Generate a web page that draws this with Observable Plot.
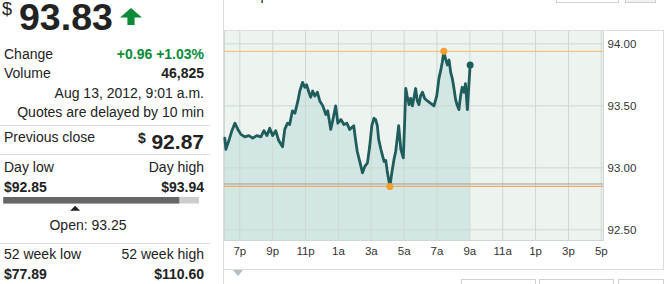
<!DOCTYPE html>
<html><head><meta charset="utf-8">
<script src="https://cdn.jsdelivr.net/npm/d3@7"></script>
<script src="https://cdn.jsdelivr.net/npm/@observablehq/plot@0.6"></script>
<style>
body{margin:0;background:#fff;font-family:"Liberation Sans",Arial,sans-serif;}
#wrap{position:relative;width:672px;height:284px;overflow:hidden;background:#fff;}
#left{position:absolute;left:0;top:0;}
#chart{position:absolute;left:223px;top:0;}
.ln{position:absolute;background:#dcdcdc;}
.bx{position:absolute;border:1px solid #d0d0d0;box-sizing:border-box;background:#fff;}
#cmp{position:absolute;left:231px;top:-13px;font-size:14px;color:#222;line-height:16px;white-space:nowrap;}
#tri{position:absolute;left:233px;top:270px;width:0;height:0;border-left:5px solid transparent;border-right:5px solid transparent;border-top:6px solid #b4bcc4;}
</style></head><body>
<div id="wrap">
  <svg id="left" width="223" height="284"></svg>
  <div class="ln" style="left:223px;top:0;width:1px;height:284px"></div>
  <div id="cmp">Compare: Indices</div>
  <div class="bx" style="left:556px;top:-20px;width:63px;height:23px"></div>
  <div class="bx" style="left:625px;top:-20px;width:31px;height:23px;background:#f2f2f2"></div>
  <div id="chart"></div>
  <div class="ln" style="left:223px;top:30px;width:441px;height:1px"></div>
  <div class="ln" style="left:223px;top:269px;width:441px;height:1px"></div>
  <div class="ln" style="left:663px;top:30px;width:1px;height:240px"></div>
  <div id="tri"></div>
  <div class="bx" style="left:461px;top:279px;width:75px;height:20px"></div>
  <div class="bx" style="left:539px;top:279px;width:75px;height:20px"></div>
  <div class="bx" style="left:618px;top:279px;width:46px;height:20px"></div>
</div>
<script>
// ---- data ----
const times = ["18:05","18:09","18:20","18:31","18:42","18:53","19:04","19:18","19:33","19:47",
"20:02","20:17","20:28","20:39","20:49","21:00","21:11","21:22","21:36","21:44",
"21:54","22:02","22:12","22:21","22:32","22:39","22:49","22:57","23:04","23:12",
"23:19","23:26","23:34","23:43","23:52","00:03","00:14","00:21","00:32","00:39",
"00:50","00:58","01:09","01:20","01:31","01:41","01:56","02:03","02:09","02:18",
"02:28","02:36","02:46","02:54","03:02","03:10","03:16","03:22","03:27","03:35",
"03:42","03:47","03:53","03:59","04:08","04:15","04:23","04:29","04:36","04:40",
"04:48","04:57","05:02","05:06","05:11","05:18","05:24","05:30","05:37","05:42",
"05:48","05:54","06:00","06:07","06:15","06:25","06:37","06:49","06:59","07:07",
"07:13","07:19","07:25","07:31","07:38","07:44","07:50","07:56","08:02","08:08",
"08:13","08:20","08:26","08:32","08:39","08:44","08:51","08:55","09:01"];
const prices = [93.24,93.15,93.22,93.30,93.36,93.31,93.27,93.25,93.26,93.24,
93.26,93.25,93.30,93.26,93.32,93.26,93.30,93.22,93.17,93.31,
93.36,93.35,93.46,93.44,93.54,93.62,93.69,93.65,93.67,93.61,
93.57,93.62,93.58,93.61,93.54,93.50,93.43,93.46,93.31,93.38,
93.50,93.36,93.39,93.35,93.36,93.31,93.34,93.22,93.13,93.05,
92.96,93.01,93.04,93.17,93.34,93.40,93.39,93.34,93.23,93.15,
93.09,93.05,93.06,92.96,92.85,92.96,93.07,93.13,93.26,93.34,
93.15,93.08,93.38,93.64,93.58,93.51,93.56,93.50,93.58,93.64,
93.54,93.51,93.58,93.61,93.56,93.54,93.52,93.50,93.58,93.72,
93.78,93.85,93.94,93.88,93.83,93.87,93.77,93.72,93.64,93.55,
93.51,93.47,93.58,93.65,93.61,93.68,93.47,93.62,93.83];
const tickTimes = ["19:00","21:00","23:00","01:00","03:00","05:00","07:00","09:00","11:00","13:00","15:00","17:00"];
const tickLabels = ["7p","9p","11p","1a","3a","5a","7a","9a","11a","1p","3p","5p"];
const yTicks = [92.5, 93.0, 93.5, 94.0];
const yDomain = [92.414, 94.108];
const xDomain = ["18:04", "17:08"];
const lastPrice = 93.83, prevClose = 92.87, dayLow = 92.85, dayHigh = 93.94, openPrice = 93.25;
const changeText = "+0.96 +1.03%", volumeText = "46,825";
const dateText = "Aug 13, 2012, 9:01 a.m.", delayText = "Quotes are delayed by 10 min";
const wkLow = "$77.89", wkHigh = "$110.60";

// ---- left quote panel ----
const L = d3.select("#left");
const F = "Liberation Sans, Arial, sans-serif";
function txt(x, y, s, o = {}) {
  return L.append("text").attr("x", x).attr("y", y).text(s)
    .attr("font-family", F).attr("font-size", o.size || 14)
    .attr("font-weight", o.bold ? "bold" : "normal")
    .attr("fill", o.fill || "#222").attr("text-anchor", o.anchor || "start");
}
txt(2, 15, "$", {size: 18});
txt(19, 30, lastPrice.toFixed(2), {size: 37.5, bold: true});
L.append("path").attr("d", "M131,8 L142,17.5 L134.6,17.5 L134.6,25 L127.4,25 L127.4,17.5 L120,17.5 Z").attr("fill", "#0b8a3a");
txt(4, 58.7, "Change");
txt(204, 58.7, changeText, {bold: true, fill: "#0b8a3a", anchor: "end"});
txt(4, 77.7, "Volume");
txt(204, 77.7, volumeText, {bold: true, anchor: "end"});
txt(204, 97.7, dateText, {anchor: "end"});
txt(204, 116.7, delayText, {anchor: "end"});
const sep = y => L.append("rect").attr("x", 0).attr("y", y).attr("width", 210).attr("height", 1).attr("fill", "#dcdcdc");
sep(125);
txt(4, 142.3, "Previous close");
txt(204, 149, prevClose.toFixed(2), {size: 21, bold: true, anchor: "end"});
txt(138, 143, "$", {size: 14, bold: true});
sep(154);
txt(4, 172.3, "Day low");
txt(204, 172.3, "Day high", {anchor: "end"});
txt(4, 191.7, "$" + dayLow.toFixed(2), {bold: true});
txt(204, 191.7, "$" + dayHigh.toFixed(2), {bold: true, anchor: "end"});
const bx = d3.scaleLinear([dayLow, dayHigh], [3.3, 199]);
L.append("rect").attr("x", bx(dayLow)).attr("y", 197).attr("width", bx(dayHigh) - bx(dayLow)).attr("height", 6.5).attr("fill", "#cccccc");
L.append("rect").attr("x", bx(dayLow)).attr("y", 197).attr("width", bx(lastPrice) - bx(dayLow)).attr("height", 6.5).attr("fill", "#666666");
const ox = bx(openPrice);
L.append("path").attr("d", `M${ox},205.8 L${ox + 5},210.8 L${ox - 5},210.8 Z`).attr("fill", "#222");
txt(88, 230, "Open: " + openPrice.toFixed(2), {anchor: "middle"});
sep(243);
txt(4, 259.3, "52 week low");
txt(204, 259.3, "52 week high", {anchor: "end"});
txt(4, 279.3, wkLow, {bold: true});
txt(204, 279.3, wkHigh, {bold: true, anchor: "end"});

// ---- chart ----
const parse = s => { const [h, m] = s.split(":").map(Number); return new Date(Date.UTC(2012, 7, h >= 18 ? 12 : 13, h, m)); };
const data = times.map((t, i) => ({t: parse(t), p: prices[i]}));
const ticks = tickTimes.map(parse);
const labelOf = new Map(ticks.map((d, i) => [+d, tickLabels[i]]));
const hi = d3.greatest(data, d => d.p), lo = d3.least(data, d => d.p), last = data[data.length - 1];

const chart = Plot.plot({
  width: 449, height: 284,
  marginLeft: 1, marginRight: 69, marginTop: 30, marginBottom: 44,
  style: {fontFamily: F, fontSize: "11.5px", color: "#333", background: "transparent"},
  x: {type: "utc", domain: xDomain.map(parse), ticks, tickFormat: d => labelOf.get(+d), tickSize: 0, tickPadding: 6, label: null},
  y: {domain: yDomain, ticks: yTicks, tickFormat: d => d.toFixed(2), tickSize: 0, tickPadding: 4, label: null, axis: "right"},
  marks: [
    Plot.frame({fill: "#edf4f0", stroke: null}),
    Plot.areaY(data, {x: "t", y1: () => yDomain[0], y2: "p", fill: "#d2e7e4", curve: "linear"}),
    Plot.ruleX(ticks, {stroke: "#cdd7d3", strokeWidth: 1}),
    Plot.ruleY(yTicks, {stroke: "#cdd7d3", strokeWidth: 1}),
    Plot.frame({stroke: "#cdd7d3"}),
    Plot.ruleY([dayHigh], {stroke: "#f3c28a", strokeWidth: 1.2}),
    Plot.ruleY([prevClose], {stroke: "#a89c8c", strokeWidth: 1}),
    Plot.ruleY([dayLow], {stroke: "#eeaa66", strokeWidth: 1.2}),
    Plot.line(data, {x: "t", y: "p", stroke: "#1f5c5c", strokeWidth: 2.8, strokeLinejoin: "round"}),
    Plot.dot([hi, lo], {x: "t", y: "p", r: 3.5, fill: "#f0a030", stroke: null}),
    Plot.dot([last], {x: "t", y: "p", r: 3.5, fill: "#1f5c5c", stroke: null})
  ]
});
document.getElementById("chart").appendChild(chart);
</script>
</body></html>
